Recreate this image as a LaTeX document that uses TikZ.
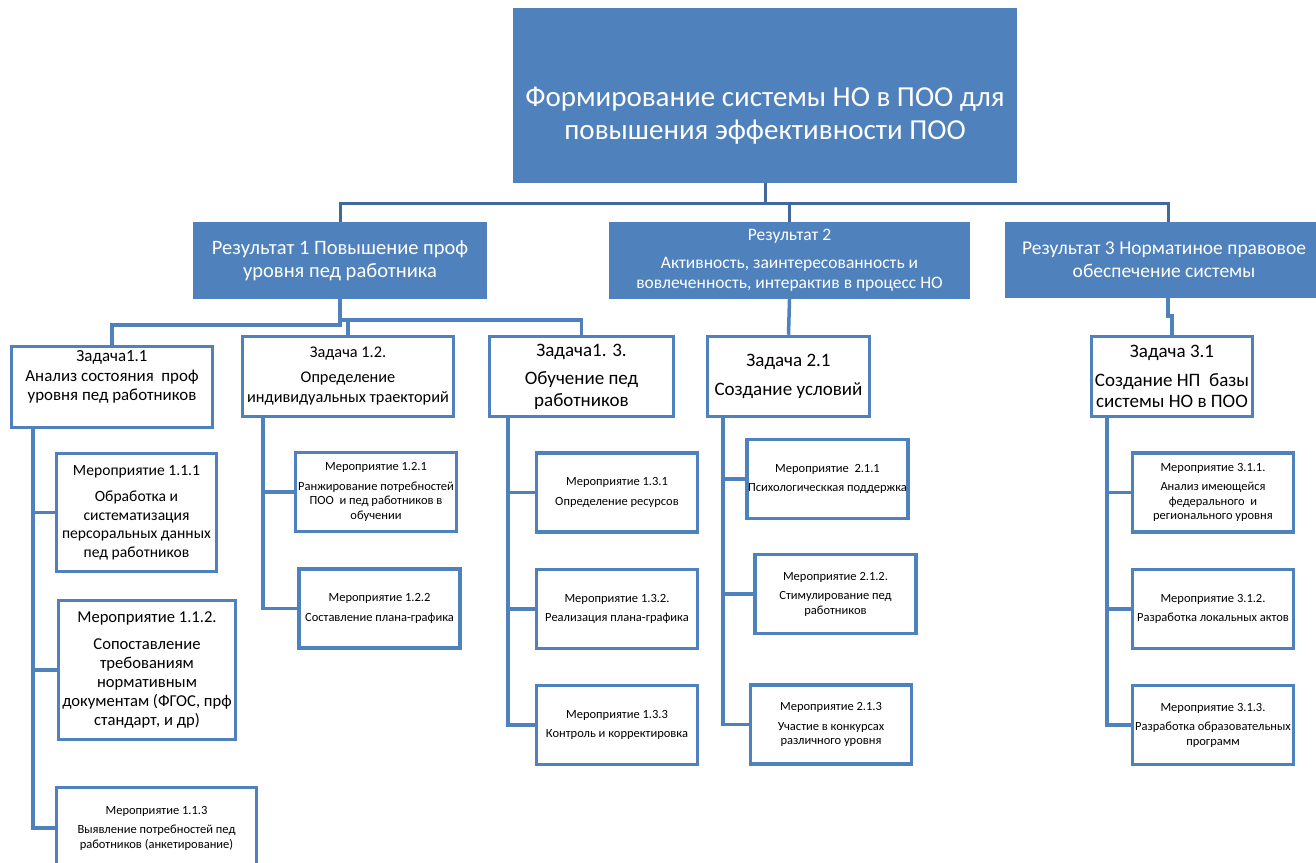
\documentclass[tikz,border=0pt]{standalone}
\usepackage{fontspec}
\setmainfont{Carlito}
\usetikzlibrary{positioning, calc}

\definecolor{boxblue}{HTML}{4F81BD}
\definecolor{linkblue}{HTML}{41699B}

\begin{document}
\begin{tikzpicture}[
    x=1pt, y=-1pt,
    result/.style={rectangle, fill=boxblue, text=white, align=center, inner sep=1pt},
    task/.style={rectangle, draw=boxblue, line width=3.5pt, fill=white, align=center, inner sep=1pt, minimum height=80pt},
    event/.style={rectangle, draw=boxblue, line width=3.5pt, fill=white, align=center, inner sep=1pt, minimum width=161pt, minimum height=79pt, font=\fontsize{12.5}{14.5}\selectfont},
    toplink/.style={draw=linkblue, line width=3pt},
    link/.style={draw=boxblue, line width=3.5pt}
]
    \useasboundingbox (0,0) rectangle (1316,862);

    % Goal
    \node[result, minimum width=504pt, minimum height=175pt] (goal) at (765,95.5) {};
    \node[text=white, align=center, inner sep=0pt, font=\fontsize{29}{33}\selectfont] (goaltext) at ([yshift=-20pt]goal.center) {Формирование системы НО в ПОО для\\повышения эффективности ПОО};

    % Results
    \node[result, minimum width=294pt, minimum height=77pt, font=\fontsize{20.5}{23}\selectfont] (res1) at (340,260.5) {Результат 1 Повышение проф\\уровня пед работника};
    \node[result, minimum width=361pt, minimum height=77pt, font=\fontsize{17.5}{20}\selectfont] (res2) at (789.5,260.5) {Результат 2\\[8pt]Активность, заинтересованность и\\вовлеченность, интерактив в процесс НО};
    \node[result, minimum width=326pt, minimum height=76pt] (res3) at (1168,260) {};
    \node[text=white, align=center, inner sep=0pt, font=\fontsize{19.5}{23}\selectfont] (res3text) at (1164,260) {Результат 3 Норматиное правовое\\обеспечение системы};

    \draw[toplink] (goal.south) -- ++(0,20) -| (res1.north);
    \draw[toplink] (goal.south) -- ++(0,20) -| (res2.north);
    \draw[toplink] (goal.south) -- ++(0,20) -| (res3.north);

    % Tasks
    \node[task, minimum width=201pt, minimum height=81pt] (task11) at (112,387) {};
    \node[align=center, inner sep=0pt, font=\fontsize{16.9}{19.5}\selectfont] (task11text) at ([yshift=10pt]task11.center) {Задача1.1\\Анализ состояния~ проф\\уровня пед работников};
    \node[task, minimum width=211pt, font=\fontsize{16.3}{20}\selectfont] (task12) at (348,376.5) {Задача 1.2.\\[5pt]Определение\\индивидуальных траекторий};
    \node[task, minimum width=184pt, font=\fontsize{19}{22}\selectfont] (task13) at (581.5,376.5) {Задача1. 3.\\[6pt]Обучение пед\\работников};
    \node[task, minimum width=162pt, font=\fontsize{19}{23}\selectfont] (task21) at (788.5,376.5) {Задача 2.1\\[6pt]Создание условий};
    \node[task, minimum width=161pt, font=\fontsize{19}{21}\selectfont] (task31) at (1172,376.5) {Задача 3.1\\[8pt]Создание НП~ базы\\системы НО в ПОО};

    \draw[link] (res1.south) -- ++(0,26) -| (task11.north);
    \draw[link] (res1.south) -- ++(0,21) -| (task12.north);
    \draw[link] (res1.south) -- ++(0,21) -| (task13.north);
    \draw[link] (res2.south) -- (task21.north);
    \draw[link] (res3.south) -- ++(0,18) -| (task31.north);

    % Events of task 1.1
    \node[event, minimum width=160pt, minimum height=118pt, font=\fontsize{15.6}{18.5}\selectfont] (ev111) at (136.5,512.5) {Мероприятие 1.1.1\\[8pt]Обработка и\\систематизация\\персоральных данных\\пед работников};
    \node[event, minimum width=177pt, minimum height=139pt, font=\fontsize{16.6}{19}\selectfont] (ev112) at (147,670) {Мероприятие 1.1.2.\\[8pt]Сопоставление\\требованиям\\нормативным\\документам (ФГОС, прф\\стандарт, и др)};
    \node[event, minimum width=200pt, minimum height=81pt] (ev113) at (156.5,828) {Мероприятие 1.1.3\\[5pt]Выявление потребностей пед\\работников (анкетирование)};

    % Events of task 1.2
    \node[event] (ev121) at (376,492) {Мероприятие 1.2.1\\[5pt]Ранжирование потребностей\\ПОО~ и пед работников в\\обучении};
    \node[event] (ev122) at (379.5,608.5) {Мероприятие 1.2.2\\[5pt]Составление плана-графика};

    % Events of task 1.3
    \node[event] (ev131) at (617,492.5) {Мероприятие 1.3.1\\[5pt]Определение ресурсов};
    \node[event] (ev132) at (617,609) {Мероприятие 1.3.2.\\[5pt]Реализация плана-графика};
    \node[event] (ev133) at (617,725) {Мероприятие 1.3.3\\[5pt]Контроль и корректировка};

    % Events of task 2.1
    \node[event] (ev211) at (827.5,479) {Мероприятие~ 2.1.1\\[5pt]Психологическкая поддержка};
    \node[event] (ev212) at (835.5,594) {Мероприятие 2.1.2.\\[5pt]Стимулирование пед\\работников};
    \node[event] (ev213) at (831,724.5) {Мероприятие 2.1.3\\[5pt]Участие в конкурсах\\различного уровня};

    % Events of task 3.1
    \node[event] (ev311) at (1213,492.5) {Мероприятие 3.1.1.\\[5pt]Анализ имеющейся\\федерального~ и\\регионального уровня};
    \node[event] (ev312) at (1213,609) {Мероприятие 3.1.2.\\[5pt]Разработка локальных актов};
    \node[event] (ev313) at (1213,725) {Мероприятие 3.1.3.\\[5pt]Разработка образовательных\\программ};

    % Trunks
    \foreach \ev in {ev111, ev112, ev113}
        \draw[link] ($(task11.south west)+(23,0)$) |- (\ev.west);
    \foreach \ev in {ev121, ev122}
        \draw[link] ($(task12.south west)+(22,0)$) |- (\ev.west);
    \foreach \ev in {ev131, ev132, ev133}
        \draw[link] ($(task13.south west)+(20,0)$) |- (\ev.west);
    \foreach \ev in {ev211, ev212, ev213}
        \draw[link] ($(task21.south west)+(17,0)$) |- (\ev.west);
    \foreach \ev in {ev311, ev312, ev313}
        \draw[link] ($(task31.south west)+(17,0)$) |- (\ev.west);
\end{tikzpicture}
\end{document}
